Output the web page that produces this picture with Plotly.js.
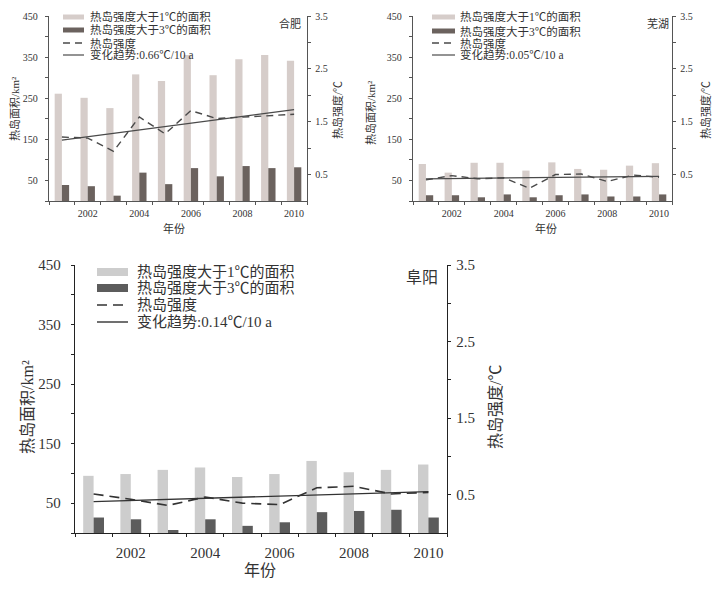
<!DOCTYPE html>
<html><head><meta charset="utf-8">
<script src="https://cdn.plot.ly/plotly-3.0.1.min.js"></script>
<style>body{margin:0;background:#fff}</style>
</head><body><div id="chart" style="width:720px;height:597px"></div>
<script>
// ---------- data ----------
const years = [2001,2002,2003,2004,2005,2006,2007,2008,2009,2010];
const yearTicks = [2002,2004,2006,2008,2010];
const trendYears = [2001,2010];

const hefeiArea1 = [261,251,226,308,292,355,306,345,355,341];
const hefeiArea3 = [39,36,13,69,41,80,60,85,80,82];
const hefeiUHI   = [1.21,1.19,0.94,1.59,1.27,1.71,1.56,1.59,1.62,1.64];
const hefeiTrend = [1.15,1.73];

const wuhuArea1 = [90,69,93,93,74,94,78,76,86,92];
const wuhuArea3 = [14,14,9,16,9,14,16,11,11,16];
const wuhuUHI   = [0.40,0.48,0.42,0.44,0.24,0.50,0.51,0.37,0.49,0.45];
const wuhuTrend = [0.42,0.465];

const fuyangArea1 = [96,99,106,110,94,99,121,102,106,115];
const fuyangArea3 = [26,23,5,23,12,18,35,37,39,26];
const fuyangUHI   = [0.51,0.44,0.36,0.47,0.39,0.37,0.59,0.61,0.51,0.53];
const fuyangTrend = [0.41,0.54];

const legendLabels = ['热岛强度大于1℃的面积','热岛强度大于3℃的面积','热岛强度'];
const trendLabels = ['变化趋势:0.66℃/10 a','变化趋势:0.05℃/10 a','变化趋势:0.14℃/10 a'];
const cityNames = ['合肥','芜湖','阜阳'];
const leftTitle = '热岛面积/km²';
const rightTitle = '热岛强度/℃';
const xTitle = '年份';
const areaTicks = [50,150,250,350,450];
const areaMinor = [0,100,200,300,400];
const uhiTicks = [0.5,1.5,2.5,3.5];
const uhiMinor = [1,2,3];

// ---------- layout helpers ----------
const W = 720, H = 597;
const px = v => v / W;
const py = v => 1 - v / H;
const SERIF = '"Liberation Serif","Noto Sans CJK SC",serif';

const panels = [
  {a1:hefeiArea1,a3:hefeiArea3,uhi:hefeiUHI,tr:hefeiTrend,
   box:[49,307,16,201], light:'#d6cdca', dark:'#6b625e', lineCol:'#4a4a4a', axCol:'#555',
   tick:10, tfont:11, dash:'7px,5px', lw:1.4,
   leg:{s0:63,s1:84,tx:88,rows:[17,30,43,55],fs:11.5,rh:5}, city:[290,23,11],
   xt:[174,228], lt:[15,109], rt:[338,110]},
  {a1:wuhuArea1,a3:wuhuArea3,uhi:wuhuUHI,tr:wuhuTrend,
   box:[413,672,16,201], light:'#d6cdca', dark:'#6b625e', lineCol:'#4a4a4a', axCol:'#555',
   tick:10, tfont:11, dash:'7px,5px', lw:1.4,
   leg:{s0:432,s1:455,tx:458,rows:[17,31,43,55],fs:11.5,rh:5}, city:[658,23,11],
   xt:[546,228], lt:[371,112], rt:[706,110]},
  {a1:fuyangArea1,a3:fuyangArea3,uhi:fuyangUHI,tr:fuyangTrend,
   box:[75,447,265,533], light:'#cdcdcd', dark:'#5c5c5c', lineCol:'#333', axCol:'#222',
   tick:15, tfont:16, dash:'10px,6px', lw:1.6,
   leg:{s0:97,s1:128,tx:135,rows:[272,288,305,322],fs:15,rh:8}, city:[422,277,16],
   xt:[260,570], lt:[27,407], rt:[495,407]}
];

const traces = [];
const layout = {
  width: W, height: H, margin:{l:0,r:0,t:0,b:0},
  paper_bgcolor:'#fff', plot_bgcolor:'#fff',
  barmode:'group', bargap:0.44, bargroupgap:0,
  showlegend:false, font:{family:SERIF, color:'#333'},
  annotations:[], shapes:[]
};

panels.forEach((p,i)=>{
  const n = i+1;
  const xa = n===1?'x':'x'+n;
  const yl = 'y'+(2*n-1===1?'':(2*n-1));
  const yr = 'y'+(2*n);
  const xKey = n===1?'xaxis':'xaxis'+n;
  const ylKey = 'yaxis'+(2*n-1===1?'':(2*n-1));
  const yrKey = 'yaxis'+(2*n);
  const [x0,x1,y0,y1] = p.box;

  traces.push({type:'bar',x:years,y:p.a1,xaxis:xa,yaxis:yl,name:legendLabels[0],
    marker:{color:p.light,line:{width:0}},offsetgroup:'a'+n});
  traces.push({type:'bar',x:years,y:p.a3,xaxis:xa,yaxis:yl,name:legendLabels[1],
    marker:{color:p.dark,line:{width:0}},offsetgroup:'b'+n});
  traces.push({type:'scatter',mode:'lines',x:years,y:p.uhi,xaxis:xa,yaxis:yr,name:legendLabels[2],
    line:{color:p.lineCol,width:p.lw,dash:p.dash}});
  traces.push({type:'scatter',mode:'lines',x:trendYears,y:p.tr,xaxis:xa,yaxis:yr,name:trendLabels[i],
    line:{color:p.lineCol,width:p.lw-0.2}});

  const tf = {family:SERIF,size:p.tick,color:'#333'};
  layout[xKey] = {domain:[px(x0),px(x1)], anchor:yl, range:[2000.5,2010.5],
    tickmode:'array', tickvals:yearTicks, ticktext:yearTicks.map(String), ticks:'',
    minor:{tickmode:'array', tickvals:years.map(y=>y-0.5).concat([2010.5]), ticks:'outside', ticklen:3, tickcolor:p.axCol},
    showline:true, linecolor:p.axCol, linewidth:1.2, showgrid:false, zeroline:false,
    tickfont:tf, ticklabelstandoff: n===3?6:3, fixedrange:true};
  layout[ylKey] = {domain:[py(y1),py(y0)], anchor:xa, range:[0,450],
    tickmode:'array', tickvals:areaTicks, ticktext:areaTicks.map(String), ticks:'outside', ticklen:3, tickcolor:p.axCol,
    minor:{tickmode:'array', tickvals:areaMinor, ticks:'outside', ticklen:3, tickcolor:p.axCol},
    showline:true, linecolor:p.axCol, linewidth:1.2, showgrid:false, zeroline:false,
    tickfont:tf, ticklabelstandoff: n===3?7:5};
  layout[yrKey] = {overlaying:yl, side:'right', anchor:xa, range:[0,3.5],
    tickmode:'array', tickvals:uhiTicks, ticktext:uhiTicks.map(v=>v.toFixed(1)),
    ticks:'outside', ticklen:3, tickcolor:p.axCol,
    minor:{tickmode:'array', tickvals:uhiMinor, ticks:'outside', ticklen:3, tickcolor:p.axCol},
    showline:true, linecolor:p.axCol, linewidth:1.2, showgrid:false, zeroline:false,
    tickfont:tf, ticklabelstandoff:2};

  const af = {family:SERIF,size:p.tfont,color:'#333'};
  // axis titles
  layout.annotations.push({xref:'paper',yref:'paper',x:px(p.xt[0]),y:py(p.xt[1]),
    text:xTitle, showarrow:false, xanchor:'center', yanchor:'middle', font:af});
  layout.annotations.push({xref:'paper',yref:'paper',x:px(p.lt[0]),y:py(p.lt[1]),
    text:leftTitle, showarrow:false, xanchor:'center', yanchor:'middle', textangle:-90, font:af});
  layout.annotations.push({xref:'paper',yref:'paper',x:px(p.rt[0]),y:py(p.rt[1]),
    text:rightTitle, showarrow:false, xanchor:'center', yanchor:'middle', textangle:-90, font:af});
  // city label
  layout.annotations.push({xref:'paper',yref:'paper',x:px(p.city[0]),y:py(p.city[1]),
    text:cityNames[i], showarrow:false, xanchor:'center', yanchor:'middle',
    font:{family:SERIF,size:p.city[2],color:'#333'}});

  // legend (drawn by hand to match compact spacing)
  const L = p.leg;
  const labels = [legendLabels[0],legendLabels[1],legendLabels[2],trendLabels[i]];
  labels.forEach((t,k)=>{
    layout.annotations.push({xref:'paper',yref:'paper',x:px(L.tx),y:py(L.rows[k]),
      text:t, showarrow:false, xanchor:'left', yanchor:'middle',
      font:{family:SERIF,size:L.fs,color:'#333'}});
  });
  const sw = {xref:'paper',yref:'paper'};
  layout.shapes.push(Object.assign({type:'rect',x0:px(L.s0),x1:px(L.s1),
    y0:py(L.rows[0]-L.rh/2),y1:py(L.rows[0]+L.rh/2),fillcolor:p.light,line:{width:0}},sw));
  layout.shapes.push(Object.assign({type:'rect',x0:px(L.s0),x1:px(L.s1),
    y0:py(L.rows[1]-L.rh/2),y1:py(L.rows[1]+L.rh/2),fillcolor:p.dark,line:{width:0}},sw));
  layout.shapes.push(Object.assign({type:'line',x0:px(L.s0),x1:px(L.s1),
    y0:py(L.rows[2]),y1:py(L.rows[2]),line:{color:p.lineCol,width:p.lw,dash:p.dash}},sw));
  layout.shapes.push(Object.assign({type:'line',x0:px(L.s0),x1:px(L.s1),
    y0:py(L.rows[3]),y1:py(L.rows[3]),line:{color:p.lineCol,width:p.lw-0.2}},sw));
});

Plotly.newPlot('chart', traces, layout, {staticPlot:true, displayModeBar:false});
</script>
</body></html>
